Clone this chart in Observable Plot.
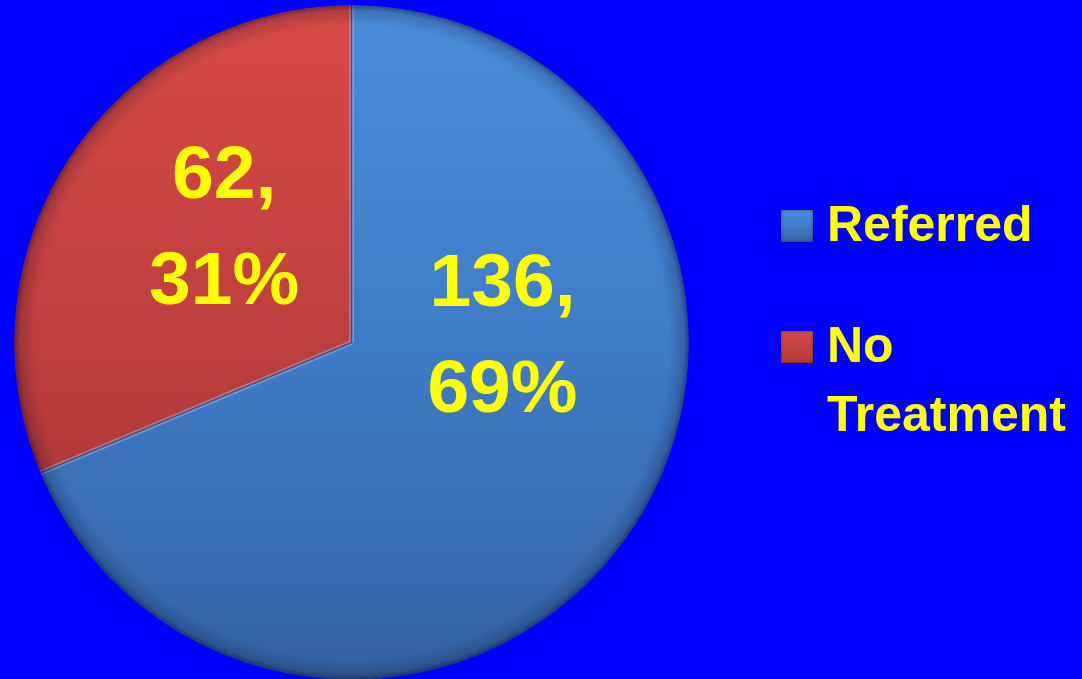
<!DOCTYPE html>
<html>
<head>
<meta charset="utf-8">
<script src="https://cdn.jsdelivr.net/npm/d3@7"></script>
<script src="https://cdn.jsdelivr.net/npm/@observablehq/plot@0.6"></script>
<style>
html, body { margin: 0; padding: 0; background: #0000ff; width: 1082px; height: 679px; overflow: hidden; }
#wrap { position: relative; width: 1082px; height: 679px; }
#legend { position: absolute; left: 781px; top: 190px; font-family: "Liberation Sans", Arial, sans-serif; font-weight: bold; font-size: 50px; line-height: 69px; color: #ffff00; }
.item { display: flex; align-items: flex-start; margin-bottom: 52px; }
.sw { width: 32px; height: 32px; margin-top: 20px; margin-right: 14px; flex: none; box-sizing: border-box; }
</style>
</head>
<body>
<div id="wrap"><div id="chart"></div><div id="legend"></div></div>
<script>
// ---- data ----
const categories = ["Referred", "No Treatment"];
const counts = [136, 62];
const percentLabels = ["69%", "31%"];

// ---- styles / layout (not data) ----
const gradTop = ["#4b8cda", "#d84a48"];
const gradMid = ["#3f7cc8", "#c64242"];
const gradBottom = ["#3362a2", "#b23a3a"];
const labelPos = [{x: 0.448, y: 0.053}, {x: -0.378, y: 0.371}];

const arcs = d3.pie().sort(null).value(d => d)(counts);

const slices = arcs.map((a, i) => {
  const pts = [{x: 0, y: 0}];
  const n = Math.max(2, Math.ceil((a.endAngle - a.startAngle) / (Math.PI / 360)));
  for (let k = 0; k <= n; k++) {
    const t = a.startAngle + (a.endAngle - a.startAngle) * k / n;
    pts.push({x: Math.sin(t), y: Math.cos(t)});
  }
  pts.push({x: 0, y: 0});
  return {name: categories[i], points: pts, start: a.startAngle};
});

const circle = d3.range(0, 721).map(k => ({x: Math.sin(k * Math.PI / 360), y: Math.cos(k * Math.PI / 360)}));

const seams = arcs.map(a => ({x1: 0, y1: 0, x2: Math.sin(a.startAngle), y2: Math.cos(a.startAngle)}));

const labels = categories.map((c, i) => ({
  text: `${counts[i]},\n${percentLabels[i]}`,
  x: labelPos[i].x, y: labelPos[i].y
}));

const chart = Plot.plot({
  width: 1082,
  height: 679,
  margin: 0,
  style: {background: "#0000ff"},
  x: {domain: [-1, 1], range: [14, 688], axis: null},
  y: {domain: [-1, 1], range: [679, 5], axis: null},
  marks: [
    ...slices.map((s, i) => Plot.line(s.points, {x: "x", y: "y", fill: `url(#g${i})`, stroke: "none"})),
    Plot.link(seams, {x1: "x1", y1: "y1", x2: "x2", y2: "y2", stroke: "#8cc0ff", strokeWidth: 5, strokeOpacity: 0.45}),
    Plot.link(seams, {x1: "x1", y1: "y1", x2: "x2", y2: "y2", stroke: "#5a1f2a", strokeWidth: 1.5, strokeOpacity: 0.6}),
    Plot.line(circle, {x: "x", y: "y", fill: "url(#rim)", stroke: "none"}),
    Plot.text(labels, {x: "x", y: "y", text: "text", fill: "#ffff00", fontSize: 75, fontWeight: "bold", fontFamily: "Liberation Sans, Arial, sans-serif", lineHeight: 1.413})
  ]
});

const ns = "http://www.w3.org/2000/svg";
const defs = document.createElementNS(ns, "defs");
gradTop.forEach((c, i) => {
  const g = document.createElementNS(ns, "linearGradient");
  g.setAttribute("id", `g${i}`);
  g.setAttribute("x1", "0"); g.setAttribute("y1", "0"); g.setAttribute("x2", "0"); g.setAttribute("y2", "1");
  [[0, gradTop[i]], [0.5, gradMid[i]], [1, gradBottom[i]]].forEach(([o, col]) => {
    const s = document.createElementNS(ns, "stop");
    s.setAttribute("offset", o); s.setAttribute("stop-color", col);
    g.appendChild(s);
  });
  defs.appendChild(g);
});
const rg = document.createElementNS(ns, "radialGradient");
rg.setAttribute("id", "rim");
rg.setAttribute("cx", "0.5"); rg.setAttribute("cy", "0.5"); rg.setAttribute("r", "0.5");
[[0, "#000020", 0], [0.94, "#000020", 0], [0.985, "#000020", 0.18], [1, "#000020", 0.45]].forEach(([o, col, op]) => {
  const s = document.createElementNS(ns, "stop");
  s.setAttribute("offset", o); s.setAttribute("stop-color", col); s.setAttribute("stop-opacity", op);
  rg.appendChild(s);
});
defs.appendChild(rg);
chart.insertBefore(defs, chart.firstChild);
document.getElementById("chart").appendChild(chart);

// legend
const legend = document.getElementById("legend");
categories.forEach((c, i) => {
  const item = document.createElement("div");
  item.className = "item";
  const sw = document.createElement("div");
  sw.className = "sw";
  sw.style.background = `linear-gradient(180deg, ${gradTop[i]} 0%, ${gradMid[i]} 50%, ${gradBottom[i]} 100%)`;
  sw.style.boxShadow = "inset 0 0 3px rgba(0,0,0,0.45), 0 0 2px rgba(0,0,40,0.6)";
  const tx = document.createElement("div");
  tx.style.width = "250px";
  tx.textContent = c;
  item.appendChild(sw);
  item.appendChild(tx);
  legend.appendChild(item);
});
</script>
</body>
</html>
